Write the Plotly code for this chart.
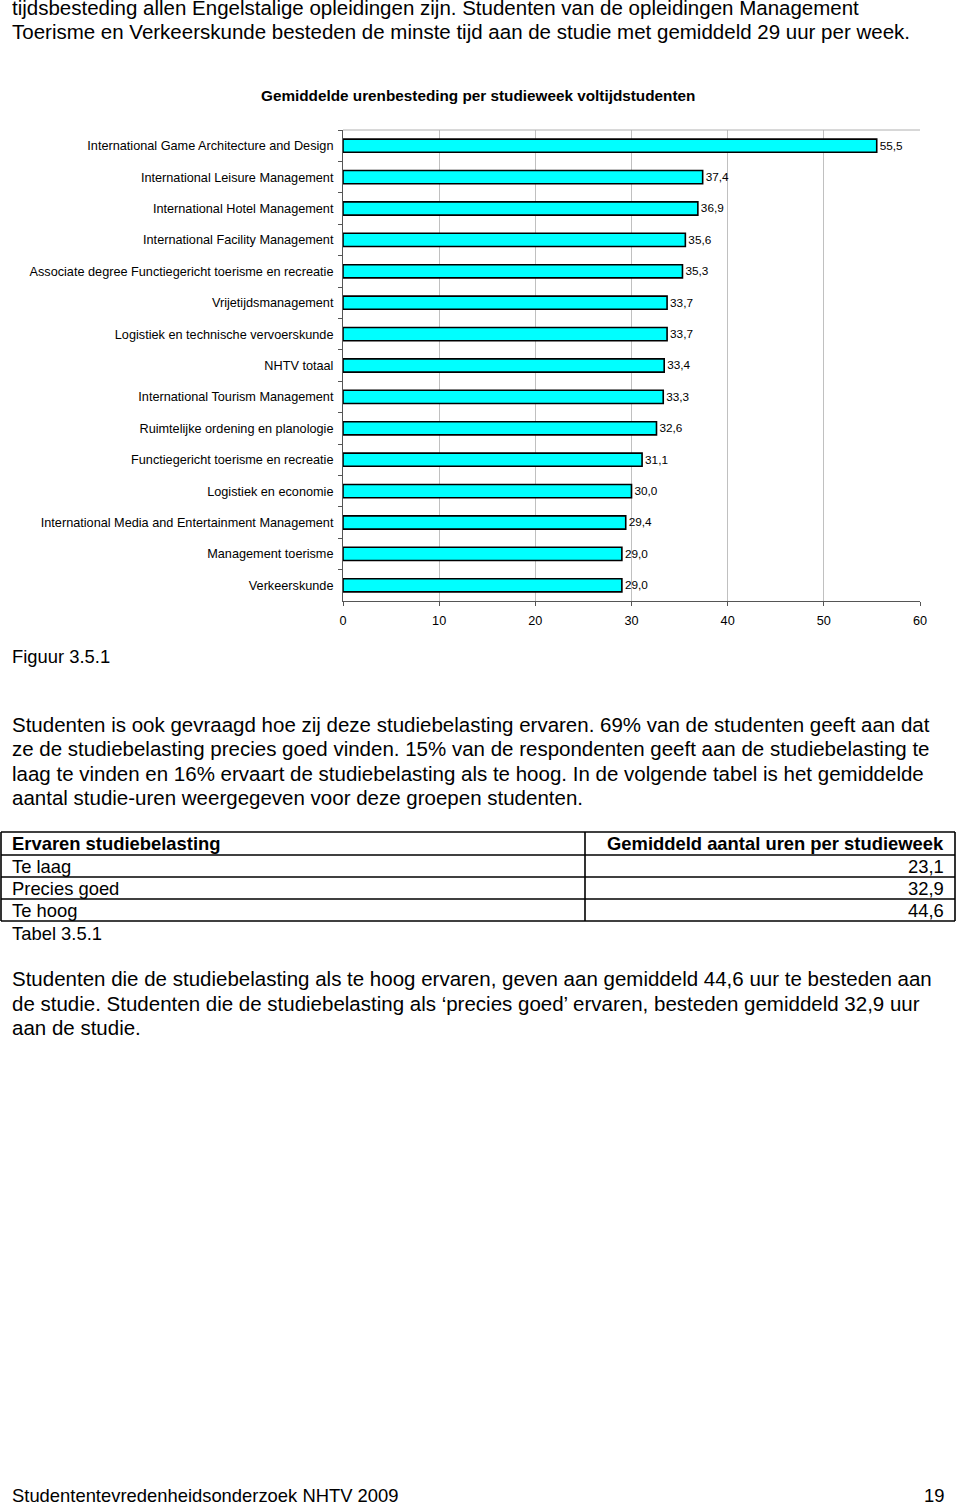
import plotly.graph_objects as go

W, H = 960, 1505

categories = [
    "International Game Architecture and Design",
    "International Leisure Management",
    "International Hotel Management",
    "International Facility Management",
    "Associate degree Functiegericht toerisme en recreatie",
    "Vrijetijdsmanagement",
    "Logistiek en technische vervoerskunde",
    "NHTV totaal",
    "International Tourism Management",
    "Ruimtelijke ordening en planologie",
    "Functiegericht toerisme en recreatie",
    "Logistiek en economie",
    "International Media and Entertainment Management",
    "Management toerisme",
    "Verkeerskunde",
]
hours = [55.5, 37.4, 36.9, 35.6, 35.3, 33.7, 33.7, 33.4, 33.3, 32.6, 31.1, 30.0, 29.4, 29.0, 29.0]
x_ticks = [0, 10, 20, 30, 40, 50, 60]

table_header = ["Ervaren studiebelasting", "Gemiddeld aantal uren per studieweek"]
table_groups = ["Te laag", "Precies goed", "Te hoog"]
table_values = [23.1, 32.9, 44.6]

chart_title = "Gemiddelde urenbesteding per studieweek voltijdstudenten"
top_lines = [
    "tijdsbesteding allen Engelstalige opleidingen zijn. Studenten van de opleidingen Management",
    "Toerisme en Verkeerskunde besteden de minste tijd aan de studie met gemiddeld 29 uur per week.",
]
para1 = [
    "Studenten is ook gevraagd hoe zij deze studiebelasting ervaren. 69% van de studenten geeft aan dat",
    "ze de studiebelasting precies goed vinden. 15% van de respondenten geeft aan de studiebelasting te",
    "laag te vinden en 16% ervaart de studiebelasting als te hoog. In de volgende tabel is het gemiddelde",
    "aantal studie-uren weergegeven voor deze groepen studenten.",
]
para2 = [
    "Studenten die de studiebelasting als te hoog ervaren, geven aan gemiddeld 44,6 uur te besteden aan",
    "de studie. Studenten die de studiebelasting als \u2018precies goed\u2019 ervaren, besteden gemiddeld 32,9 uur",
    "aan de studie.",
]

FONT = "Liberation Sans, Arial, sans-serif"


def fx(px):
    return px / W


def fy(py):
    return 1 - py / H


def nl(v):
    return f"{v:.1f}".replace(".", ",")


fig = go.Figure()

fig.add_trace(go.Bar(
    x=hours,
    y=categories,
    orientation="h",
    width=0.42,
    marker=dict(color="#00FFFF", line=dict(color="#000000", width=1.6)),
    text=[nl(v) for v in hours],
    textposition="outside",
    textfont=dict(family=FONT, size=13.4, color="#000000"),
    cliponaxis=False,
    hoverinfo="skip",
))

annotations = []
shapes = []


def add_text(txt, px, py, size=18.4, anchor="left", bold=False):
    shift = -2 if anchor == "left" else (2 if anchor == "right" else 0)
    annotations.append(dict(
        text=f"<b>{txt}</b>" if bold else txt,
        x=fx(px), y=fy(py), xref="paper", yref="paper", xshift=shift,
        xanchor=anchor, yanchor="middle", showarrow=False,
        font=dict(family=FONT, size=size, color="#000000"),
    ))


def hline(x0, x1, py, w=1.6):
    shapes.append(dict(type="line", xref="paper", yref="paper",
                       x0=fx(x0), x1=fx(x1), y0=fy(py), y1=fy(py),
                       line=dict(color="#000000", width=w)))


def vline(px, y0, y1, w=1.6):
    shapes.append(dict(type="line", xref="paper", yref="paper",
                       x0=fx(px), x1=fx(px), y0=fy(y0), y1=fy(y1),
                       line=dict(color="#000000", width=w)))


# page text
for i, line in enumerate(top_lines):
    add_text(line, 12, 8 + 23.5 * i, size=20.5)
add_text(chart_title, 478, 96, size=15.3, anchor="center", bold=True)
add_text("Figuur 3.5.1", 12, 656)
for i, line in enumerate(para1):
    add_text(line, 12, 725 + 24 * i, size=20.5)

# table (text from the table arrays, rules as page layout)
t_left, t_mid, t_right = 1, 585, 955
row_edges = [832, 855, 877, 899, 921]
for e in row_edges:
    hline(t_left, t_right, e)
vline(t_left, row_edges[0], row_edges[-1])
vline(t_mid, row_edges[0], row_edges[-1])
vline(t_right, row_edges[0], row_edges[-1])
add_text(table_header[0], 12, (row_edges[0] + row_edges[1]) / 2, bold=True)
add_text(table_header[1], 944, (row_edges[0] + row_edges[1]) / 2, anchor="right", bold=True)
for i, (g, v) in enumerate(zip(table_groups, table_values)):
    cy = (row_edges[i + 1] + row_edges[i + 2]) / 2 + 0.5
    add_text(g, 12, cy)
    add_text(nl(v), 944, cy, anchor="right")

add_text("Tabel 3.5.1", 12, 933)
for i, line in enumerate(para2):
    add_text(line, 12, 979 + 24 * i, size=20.5)
add_text("Studententevredenheidsonderzoek NHTV 2009", 12, 1495)
add_text("19", 944, 1495, anchor="right")

shapes.append(dict(type="line", xref="x domain", yref="y domain", x0=0, x1=1, y0=1, y1=1,
                   line=dict(color="#b0b0b0", width=1)))

fig.update_layout(
    width=W, height=H,
    margin=dict(l=0, r=0, t=0, b=0, autoexpand=False),
    paper_bgcolor="white",
    plot_bgcolor="white",
    showlegend=False,
    font=dict(family=FONT, color="#000000"),
    annotations=annotations,
    shapes=shapes,
    xaxis=dict(
        domain=[fx(343), fx(920)],
        range=[0, 60],
        tickvals=x_ticks,
        ticktext=[str(t) for t in x_ticks],
        showgrid=True, gridcolor="#c0c0c0", gridwidth=1,
        zeroline=False,
        showline=True, linecolor="#555555", linewidth=1,
        ticks="outside", ticklen=4, tickcolor="#555555",
        ticklabelstandoff=4,
        tickfont=dict(family=FONT, size=12.7, color="#000000"),
        fixedrange=True, automargin=False,
    ),
    yaxis=dict(
        domain=[fy(601), fy(130)],
        autorange="reversed",
        type="category",
        tickson="boundaries",
        ticks="outside", ticklen=4, tickcolor="#555555",
        showline=True, linecolor="#555555", linewidth=1,
        showgrid=False,
        ticklabelstandoff=6,
        tickfont=dict(family=FONT, size=12.7, color="#000000"),
        fixedrange=True, automargin=False,
    ),
)

fig.write_html("out.html")
